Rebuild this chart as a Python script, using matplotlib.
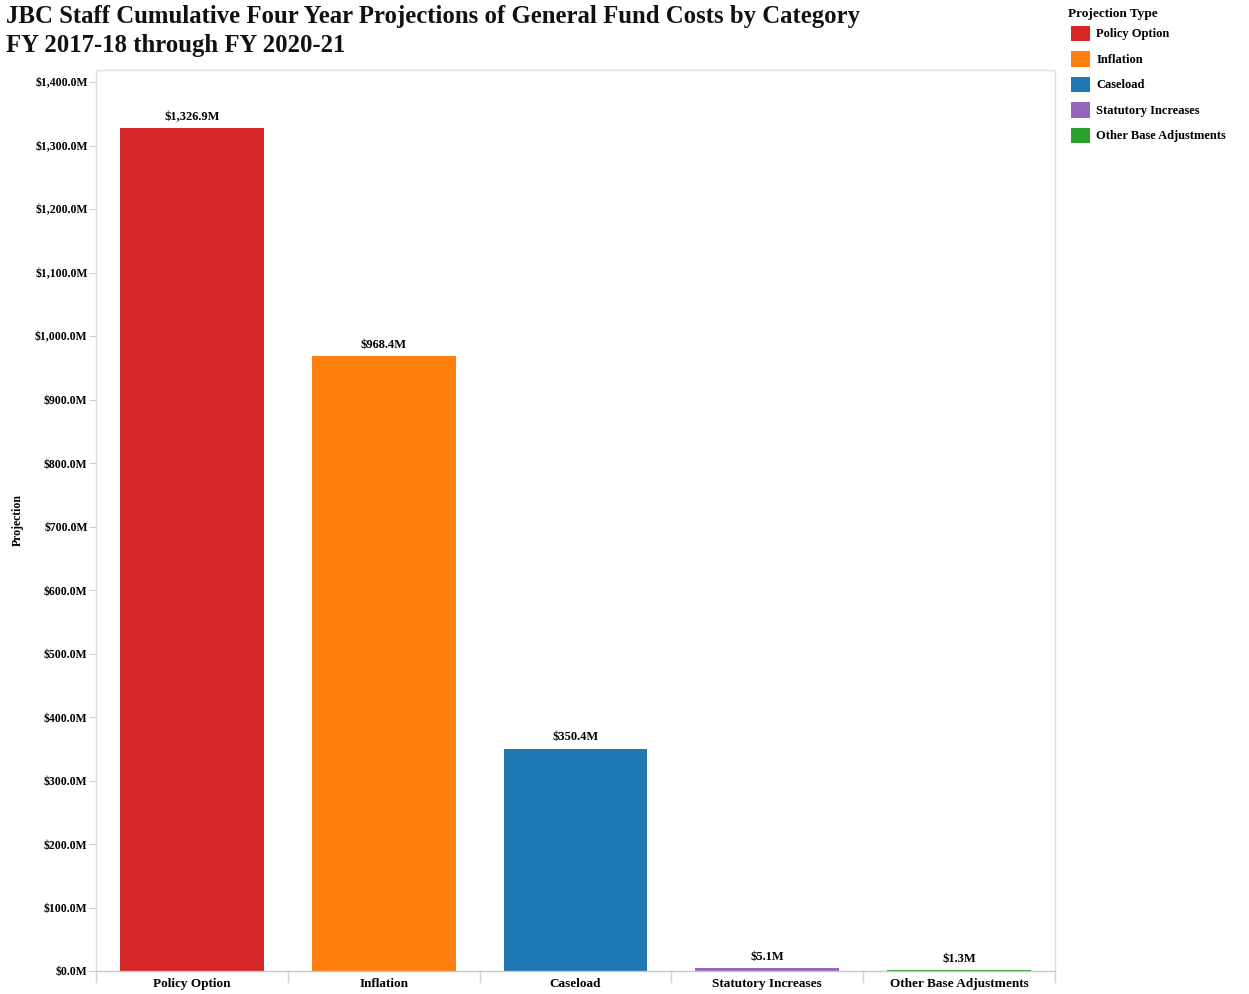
import matplotlib.pyplot as plt
from matplotlib.patches import Patch
from matplotlib.ticker import FuncFormatter, MultipleLocator

categories = ["Policy Option", "Inflation", "Caseload",
              "Statutory Increases", "Other Base Adjustments"]
values = [1326.9, 968.4, 350.4, 5.1, 1.3]
value_labels = ["$1,326.9M", "$968.4M", "$350.4M", "$5.1M", "$1.3M"]
colors = ["#d62728", "#ff7f0e", "#1f77b4", "#9467bd", "#2ca02c"]

plt.rcParams["font.family"] = ["Liberation Serif", "DejaVu Serif"]
plt.rcParams["font.weight"] = "bold"

fig = plt.figure(figsize=(12.49, 9.94), dpi=100)
W, H = 1249, 994
ax = fig.add_axes([96 / W, 1 - 971 / H, (1055 - 96) / W, (971 - 70) / H])

x = range(len(categories))
ax.bar(x, values, width=0.75, color=colors)

for xi, v, lab in zip(x, values, value_labels):
    ax.text(xi, v + 8, lab, ha="center", va="bottom", fontsize=9, fontweight="bold")

ax.set_xlim(-0.5, len(categories) - 0.5)
ax.set_ylim(0, 1419)
ax.yaxis.set_major_locator(MultipleLocator(100))
ax.yaxis.set_major_formatter(FuncFormatter(lambda v, p: f"${v:,.1f}M"))
ax.set_xticks(list(x))
ax.set_xticklabels(categories, fontsize=9.5, fontweight="bold")
ax.tick_params(axis="x", length=0, pad=5)
ax.tick_params(axis="y", length=5, color="#d0d0d0", labelsize=8.5, pad=1)

# category dividers below the baseline
for b in [i - 0.5 for i in range(len(categories) + 1)]:
    ax.plot([b, b], [0, -0.012], transform=ax.get_xaxis_transform(),
            color="#d0d0d0", lw=1, clip_on=False)

for s in ax.spines.values():
    s.set_color("#e0e0e0")
    s.set_linewidth(1)
ax.spines["bottom"].set_color("#c8c8c8")

ax.set_ylabel("Projection", fontsize=8.5, fontweight="bold")
ax.yaxis.set_label_coords(-0.083 + 7 / 959, 0.5)

fig.text(6 / W, 1 - 5 / H,
         "JBC Staff Cumulative Four Year Projections of General Fund Costs by Category\n"
         "FY 2017-18 through FY 2020-21",
         ha="left", va="top", fontsize=17.8, fontweight="bold", linespacing=1.35,
         color="#111111")

# legend: title as separate text so the first row sits closer to it
fig.text(1068 / W, 1 - 14 / H, "Projection Type", ha="left", va="center",
         fontsize=9.5, fontweight="bold")
handles = [Patch(facecolor=c, label=l) for c, l in zip(colors, categories)]
leg = fig.legend(handles=handles, loc="upper left",
                 bbox_to_anchor=(1060 / W, 1 - 14.5 / H), frameon=False,
                 fontsize=9, handlelength=1.5, handleheight=1.5,
                 handletextpad=0.5, labelspacing=0.82)
for t in leg.get_texts():
    t.set_fontweight("bold")

fig.savefig("out.png", dpi=100)
